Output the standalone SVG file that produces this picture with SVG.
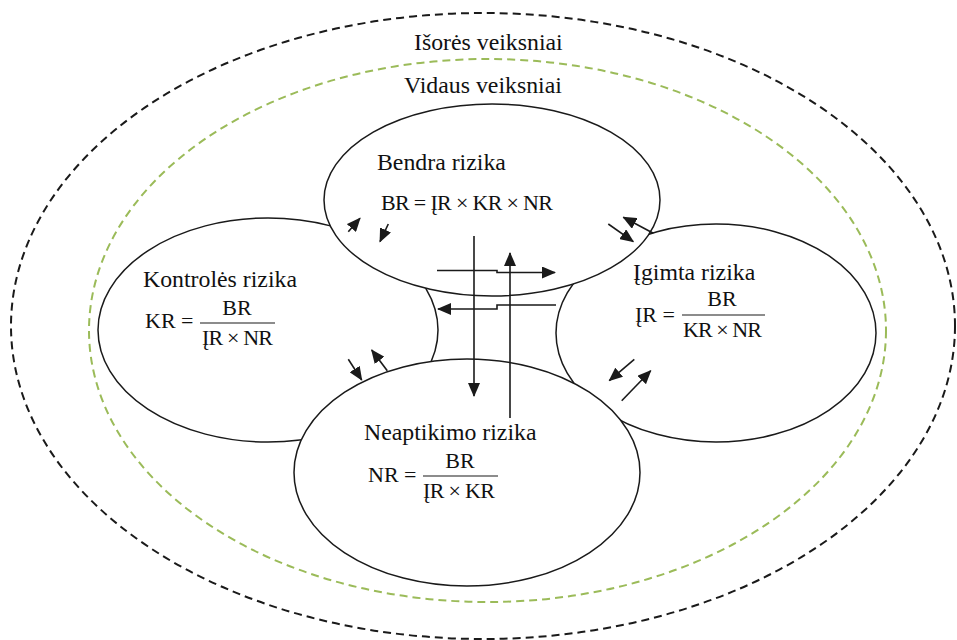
<svg xmlns="http://www.w3.org/2000/svg" width="957" height="640" viewBox="0 0 957 640">
<style>
  .bg { fill: #ffffff; }
  .outer { fill: none; stroke: #1a1a1a; stroke-width: 2; stroke-dasharray: 8 5; }
  .inner { fill: none; stroke: #9bbb59; stroke-width: 2; stroke-dasharray: 8 5; }
  .node { fill: #ffffff; stroke: #1a1a1a; stroke-width: 1.5; }
  .t { font-family: 'Liberation Serif', 'DejaVu Serif', serif; fill: #111111; }
  .lbl { font-size: 23.8px; }
  .eq { font-size: 22px; }
  .frac { stroke: #1a1a1a; stroke-width: 1.2; }
  .arr { fill: none; stroke: #1a1a1a; stroke-width: 1.6; marker-end: url(#ah); }
</style>
<defs>
  <marker id="ah" markerUnits="userSpaceOnUse" markerWidth="14" markerHeight="12" refX="13" refY="6" orient="auto">
    <path d="M0,0 L14,6 L0,12 Z" fill="#1a1a1a"/>
  </marker>
</defs>
<rect class="bg" x="0" y="0" width="957" height="640"/>

<g id="outer-factors">
  <ellipse class="outer" cx="483" cy="326" rx="472" ry="313"/>
  <text class="t lbl" x="414" y="50">Išorės veiksniai</text>
</g>
<g id="inner-factors">
  <ellipse class="inner" cx="487.5" cy="330.5" rx="398.5" ry="271.5"/>
  <text class="t lbl" x="404" y="93">Vidaus veiksniai</text>
</g>

<g id="kontroles">
  <ellipse class="node" cx="268" cy="330" rx="170" ry="112"/>
  <text class="t lbl" x="143" y="287">Kontrolės rizika</text>
  <text class="t eq" x="145" y="328">KR =</text>
  <text class="t eq" x="237" y="315" text-anchor="middle">BR</text>
  <line class="frac" x1="200" y1="323" x2="275" y2="323"/>
  <text class="t eq" x="202" y="345" textLength="71" lengthAdjust="spacing">ĮR × NR</text>
</g>

<g id="igimta">
  <ellipse class="node" cx="716" cy="333" rx="160" ry="109"/>
  <text class="t lbl" x="633" y="280">Įgimta rizika</text>
  <text class="t eq" x="635" y="322">ĮR =</text>
  <text class="t eq" x="722" y="306" text-anchor="middle">BR</text>
  <line class="frac" x1="682" y1="315" x2="765" y2="315"/>
  <text class="t eq" x="683" y="337" textLength="79" lengthAdjust="spacing">KR × NR</text>
</g>

<g id="bendra">
  <ellipse class="node" cx="492" cy="200" rx="168" ry="96"/>
  <text class="t lbl" x="377" y="170">Bendra rizika</text>
  <text class="t eq" x="381" y="210" textLength="172" lengthAdjust="spacing">BR = ĮR × KR × NR</text>
</g>

<g id="neaptikimo">
  <ellipse class="node" cx="467" cy="472.5" rx="173" ry="113.5"/>
  <text class="t lbl" x="364" y="440">Neaptikimo rizika</text>
  <text class="t eq" x="368" y="482">NR =</text>
  <text class="t eq" x="460" y="468" text-anchor="middle">BR</text>
  <line class="frac" x1="423" y1="476" x2="498" y2="476"/>
  <text class="t eq" x="423" y="498" textLength="72" lengthAdjust="spacing">ĮR × KR</text>
</g>

<g id="connectors">
  <path class="arr" d="M474 236 V396"/>
  <path class="arr" d="M510 418 V253"/>
  <path class="arr" d="M437 270.5 H497 V272.5 H555"/>
  <path class="arr" d="M556 305 H497 V309 H438"/>
  <path class="arr" d="M348.3 231.7 L360 218.3"/>
  <path class="arr" d="M388.3 224 L380 241.7"/>
  <path class="arr" d="M608.3 224 L633.3 241.7"/>
  <path class="arr" d="M653.3 233.3 L623.3 217.3"/>
  <path class="arr" d="M634.3 359.3 L609.3 380.7"/>
  <path class="arr" d="M621.7 400.7 L650.7 370.7"/>
  <path class="arr" d="M348.3 359.3 L361.7 380"/>
  <path class="arr" d="M387.3 370.7 L371.7 350"/>
</g>
</svg>
